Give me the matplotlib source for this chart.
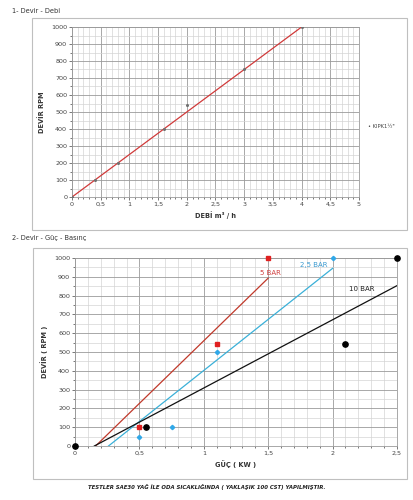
import matplotlib
matplotlib.use("Agg")
import matplotlib.pyplot as plt
from matplotlib.patches import Rectangle
import numpy as np

# ---- Data: chart 1 (Devir - Debi)
debi_pts = [0, 0.4, 0.8, 1.6, 2.0, 3.0, 4.0]
devir_pts = [0, 100, 200, 400, 540, 750, 1000]
trend1_x = [0, 4]
trend1_y = [0, 1000]

# ---- Data: chart 2 (Devir - Güç - Basınç)
red_x = [0.5, 1.1, 1.5]
red_y = [100, 540, 1000]
blue_x = [0.5, 0.75, 1.1, 2.0]
blue_y = [50, 100, 500, 1000]
black_x = [0, 0.55, 2.1, 2.5]
black_y = [0, 100, 540, 1000]
red_line_x = [0.16, 1.5]
red_line_y = [0, 893]
blue_line_x = [0.26, 2.0]
blue_line_y = [0, 945]
black_line_x = [0.15, 2.5]
black_line_y = [0, 853]

x1_ticks = [0, 0.5, 1, 1.5, 2, 2.5, 3, 3.5, 4, 4.5, 5]
x2_ticks = [0, 0.5, 1, 1.5, 2, 2.5]
y_ticks = list(range(0, 1001, 100))

def fmt(v):
    s = ("%g" % v)
    return s.replace(".", ",")

plt.rcParams['font.family'] = ['DejaVu Sans']
fig = plt.figure(figsize=(4.14, 5.0), dpi=100)

# chart area boxes
for (x0, y0, x1, y1) in [(32, 18, 407, 230), (33, 248, 407, 479)]:
    fig.patches.append(Rectangle((x0/414, 1-y1/500), (x1-x0)/414, (y1-y0)/500,
                                 transform=fig.transFigure, fill=False,
                                 edgecolor="#bfbfbf", linewidth=0.8))

fig.text(12/414, 1-11/500, "1- Devir - Debi", fontsize=4.8, color="#333333", va="center")
fig.text(12/414, 1-238/500, "2- Devir - Güç - Basınç", fontsize=4.8, color="#333333", va="center")
fig.text(207/414, 1-487/500, "TESTLER SAE30 YAĞ İLE ODA SICAKLIĞINDA ( YAKLAŞIK 100 CST) YAPILMIŞTIR.",
         fontsize=3.9, fontweight="bold", fontstyle="italic", color="#222222", ha="center", va="center")

def style(ax, xmax, xticks, xlabel, ylabel):
    ax.set_xlim(0, xmax)
    ax.set_ylim(0, 1000)
    ax.set_xticks(xticks)
    ax.set_xticklabels([fmt(v) for v in xticks])
    ax.set_yticks(y_ticks)
    ax.set_yticklabels([str(v) for v in y_ticks])
    ax.set_xticks(np.arange(0, xmax + 0.001, 0.1), minor=True)
    ax.set_yticks(np.arange(0, 1001, 50), minor=True)
    ax.grid(which="minor", color="#d4d4d4", linewidth=0.5)
    ax.grid(which="major", color="#9a9a9a", linewidth=0.6)
    ax.set_axisbelow(True)
    ax.tick_params(which="both", labelsize=4.6, colors="#444444", length=2, width=0.5, pad=1.5)
    ax.tick_params(which="minor", length=1.5)
    for s in ax.spines.values():
        s.set_color("#9a9a9a")
        s.set_linewidth(0.6)
    ax.set_xlabel(xlabel, fontsize=4.8, fontweight="bold", color="#333333", labelpad=3)
    ax.set_ylabel(ylabel, fontsize=4.8, fontweight="bold", color="#333333", labelpad=4)

ax1 = fig.add_axes([72/414, 1-197/500, (359-72)/414, (197-27)/500])
style(ax1, 5, x1_ticks, "DEBİ m³ / h", "DEVİR RPM")
ax1.plot(trend1_x, trend1_y, color="#d03a3a", linewidth=0.9, zorder=3)
ax1.plot(debi_pts, devir_pts, linestyle="none", marker="o", markersize=1.2,
         color="#707070", zorder=4)
fig.text(368/414, 1-127/500, "• KIPK1½\"", fontsize=3.8, color="#444444", va="center")

ax2 = fig.add_axes([75/414, 1-446/500, (397-75)/414, (446-258)/500])
style(ax2, 2.5, x2_ticks, "GÜÇ ( KW )", "DEVİR ( RPM )")
ax2.plot(red_line_x, red_line_y, color="#c0392b", linewidth=0.9, zorder=3)
ax2.plot(blue_line_x, blue_line_y, color="#3ab0d8", linewidth=0.9, zorder=3)
ax2.plot(black_line_x, black_line_y, color="#111111", linewidth=0.9, zorder=3)
ax2.plot(red_x, red_y, linestyle="none", marker="s", markersize=2.8, color="#e02020", zorder=5, clip_on=False)
ax2.plot(blue_x, blue_y, linestyle="none", marker="D", markersize=2.2, color="#30a8e8", zorder=5, clip_on=False)
ax2.plot(black_x, black_y, linestyle="none", marker="o", markersize=3.8, color="#000000", zorder=5, clip_on=False)
ax2.text(1.44, 920, "5 BAR", fontsize=5, color="#d04040", va="center")
ax2.text(1.75, 962, "2,5 BAR", fontsize=5, color="#3a9ad0", va="center")
ax2.text(2.13, 835, "10 BAR", fontsize=5, color="#222222", va="center")

fig.savefig("out.png", dpi=100)
